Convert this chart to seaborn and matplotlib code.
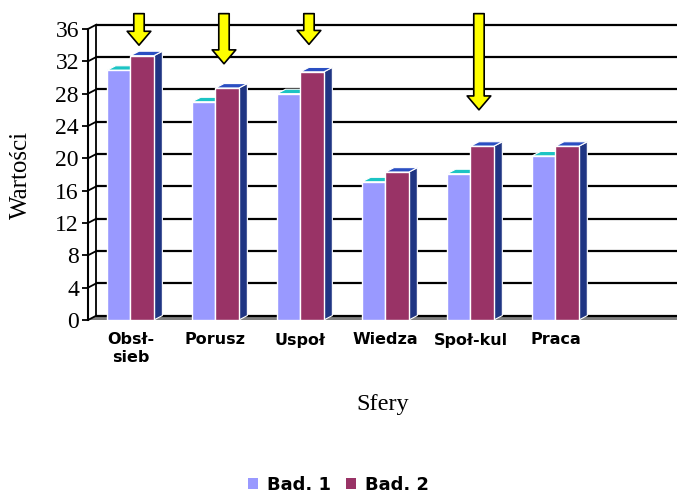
import numpy as np
import pandas as pd
import matplotlib
matplotlib.use('Agg')
import matplotlib.pyplot as plt
import seaborn as sns
from matplotlib.patches import Polygon, Patch

# values
sfery = ['Obsł-\nsieb', 'Porusz', 'Uspoł', 'Wiedza', 'Społ-kul', 'Praca']
bad1 = [30.9, 27.0, 28.0, 17.1, 18.1, 20.3]
bad2 = [32.7, 28.7, 30.7, 18.3, 21.5, 21.5]
serie = ['Bad. 1', 'Bad. 2']

# yellow arrows: which category they point at and where the tip ends
arrow_cats = ['Obsł-\nsieb', 'Porusz', 'Uspoł', 'Społ-kul']
arrow_tips = [34.0, 31.7, 34.1, 26.0]

kolory = ['#9999FF', '#993366']
kolory_gora = ['#1CC4C4', '#2B4FC2']
kolor_bok = '#1F3583'

df = pd.DataFrame({
    'Sfera': sfery * 2,
    'Badanie': [serie[0]] * len(sfery) + [serie[1]] * len(sfery),
    'Wartosc': bad1 + bad2,
})

sns.set_style('white')
plt.rcParams['font.family'] = ['DejaVu Sans']
plt.rcParams['text.color'] = 'black'
plt.rcParams['axes.labelcolor'] = 'black'
plt.rcParams['xtick.color'] = 'black'
plt.rcParams['ytick.color'] = 'black'

fig = plt.figure(figsize=(6.77, 4.96), dpi=100)
ax = fig.add_axes([88 / 677, 1 - 320 / 496, 589 / 677, 291 / 496])

# 3d offsets (depth) in data units
dx, dy = 0.1, 0.55
xmax = 6.43

# floor
ax.add_patch(Polygon([(-0.5, 0), (-0.5 + dx, dy), (xmax, dy), (xmax, 0)],
                     closed=True, fc='#808080', ec='none', zorder=0.3))

# back-wall grid lines and the left wall
yt = np.arange(0, 37, 4)
ax.hlines(yt + dy, -0.5 + dx, xmax, colors='black', lw=1.6, zorder=0.5, clip_on=False)
for y in yt:
    ax.plot([-0.5, -0.5 + dx], [y, y + dy], color='black', lw=1.3, zorder=0.5, clip_on=False)
ax.plot([-0.5 + dx, -0.5 + dx], [dy, 36 + dy], color='black', lw=1.3, zorder=0.5, clip_on=False)

sns.barplot(data=df, x='Sfera', y='Wartosc', hue='Badanie', palette=kolory, saturation=1,
            width=0.55, gap=0, edgecolor='white', linewidth=1, ax=ax, zorder=2)
if ax.get_legend() is not None:
    ax.get_legend().remove()

# fake 3d: side and top face for every bar
for k, cont in enumerate(ax.containers):
    for p in cont.patches:
        x0, w, h = p.get_x(), p.get_width(), p.get_height()
        bok = Polygon([(x0 + w, 0), (x0 + w + dx, dy), (x0 + w + dx, h + dy), (x0 + w, h)],
                      closed=True, fc=kolor_bok, ec='white', lw=0.8, zorder=1.5 + k)
        gora = Polygon([(x0, h), (x0 + dx, h + dy), (x0 + w + dx, h + dy), (x0 + w, h)],
                       closed=True, fc=kolory_gora[k], ec='white', lw=0.8, zorder=1.5 + k)
        ax.add_patch(bok)
        ax.add_patch(gora)
        p.set_zorder(2 + k)

# arrows above the second series
for cat, tip in zip(arrow_cats, arrow_tips):
    xa = sfery.index(cat) + 0.1
    ax.annotate('', xy=(xa, tip), xytext=(xa, 37.9), annotation_clip=False,
                arrowprops=dict(arrowstyle='simple,head_length=1.0,head_width=1.7,tail_width=0.75',
                                fc='#FFFF00', ec='black', lw=1.2, shrinkA=0, shrinkB=0,
                                mutation_scale=10), zorder=6)

ax.set_ylim(0, 36)
ax.set_xlim(-0.5, xmax)
ax.set_yticks(yt)
ax.set_yticklabels([str(v) for v in yt], fontfamily='Liberation Serif', fontsize=17)
ax.tick_params(axis='y', left=True, length=4.5, width=1.3, pad=2, color='black')
ax.tick_params(axis='x', length=0, pad=9)
for t in ax.get_xticklabels():
    t.set_fontweight('bold')
    t.set_fontsize(11.5)

for s in ['top', 'right', 'bottom']:
    ax.spines[s].set_visible(False)
ax.spines['left'].set_color('black')
ax.spines['left'].set_linewidth(1.5)
ax.grid(False)

ax.set_ylabel('Wartości', fontfamily='Liberation Serif', fontsize=18)
ax.yaxis.set_label_coords(-0.095, 0.5)
ax.set_xlabel('Sfery', fontfamily='Liberation Serif', fontsize=17.5)
ax.xaxis.set_label_coords(0.5, -0.255)

uchwyty = [Patch(fc=kolory[0], ec='none'), Patch(fc=kolory[1], ec='none')]
fig.legend(uchwyty, serie, loc='center', bbox_to_anchor=(0.5, 1 - 485 / 496), ncol=2,
           frameon=False, handlelength=0.55, handleheight=0.55, handletextpad=0.5,
           columnspacing=0.8, prop={'weight': 'bold', 'size': 13})

fig.savefig('out.png', dpi=100)
